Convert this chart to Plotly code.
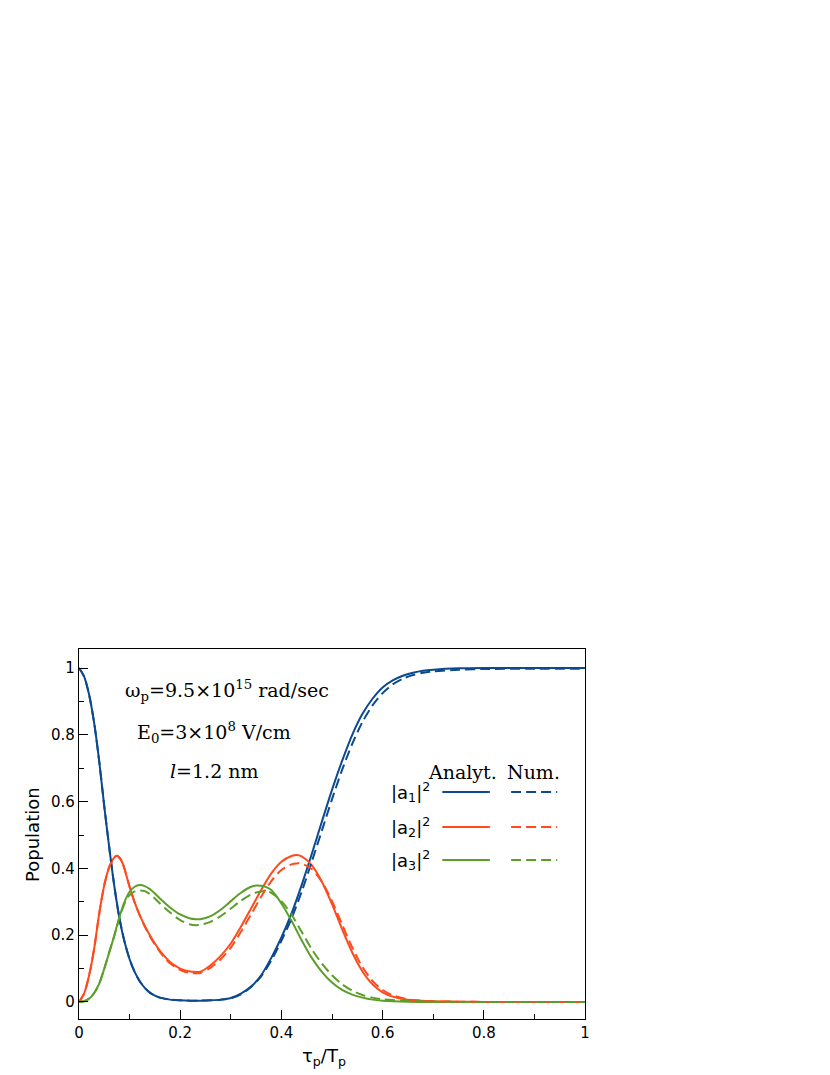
import plotly.graph_objects as go

# ---------------- data ----------------
x_a1 = [0, 0.01, 0.02, 0.03, 0.04, 0.05, 0.06, 0.07, 0.08, 0.09, 0.10, 0.11, 0.12, 0.13,
        0.14, 0.15, 0.16, 0.18, 0.20, 0.22, 0.24, 0.26, 0.28, 0.30, 0.32, 0.34, 0.36, 0.38,
        0.40, 0.42, 0.44, 0.46, 0.48, 0.50, 0.52, 0.54, 0.56, 0.58, 0.60, 0.62, 0.64, 0.66,
        0.68, 0.70, 0.75, 0.80, 0.90, 1.0]
a1_analyt = [1.0, 0.975, 0.92, 0.835, 0.72, 0.585, 0.46, 0.345, 0.25, 0.18, 0.128, 0.09,
             0.062, 0.042, 0.028, 0.019, 0.013, 0.007, 0.005, 0.004, 0.004, 0.005, 0.007,
             0.012, 0.025, 0.046, 0.08, 0.132, 0.193, 0.265, 0.35, 0.443, 0.54, 0.635, 0.722,
             0.80, 0.862, 0.908, 0.942, 0.963, 0.977, 0.986, 0.992, 0.995, 0.999, 1.0, 1.0, 1.0]
a1_num = [1.0, 0.975, 0.92, 0.835, 0.72, 0.585, 0.46, 0.345, 0.25, 0.18, 0.128, 0.09,
          0.062, 0.042, 0.028, 0.019, 0.013, 0.007, 0.005, 0.004, 0.004, 0.005, 0.007,
          0.011, 0.023, 0.045, 0.077, 0.124, 0.183, 0.25, 0.33, 0.42, 0.513, 0.607, 0.695,
          0.773, 0.838, 0.888, 0.925, 0.951, 0.968, 0.979, 0.986, 0.99, 0.995, 0.997, 0.998, 0.998]

x_a2 = [0, 0.01, 0.02, 0.03, 0.04, 0.05, 0.06, 0.07, 0.075, 0.08, 0.085, 0.09, 0.10, 0.11,
        0.12, 0.13, 0.14, 0.15, 0.16, 0.17, 0.18, 0.19, 0.20, 0.21, 0.22, 0.23, 0.24, 0.26,
        0.28, 0.30, 0.32, 0.34, 0.36, 0.38, 0.40, 0.42, 0.43, 0.44, 0.46, 0.48, 0.50, 0.52,
        0.54, 0.56, 0.58, 0.60, 0.62, 0.64, 0.66, 0.70, 0.75, 0.80, 0.90, 1.0]
a2_analyt = [0, 0.025, 0.08, 0.16, 0.265, 0.35, 0.405, 0.433, 0.438, 0.432, 0.42, 0.398,
             0.345, 0.298, 0.26, 0.228, 0.2, 0.175, 0.153, 0.135, 0.12, 0.109, 0.1, 0.094,
             0.091, 0.09, 0.091, 0.11, 0.138, 0.175, 0.225, 0.28, 0.335, 0.385, 0.42, 0.437,
             0.44, 0.436, 0.41, 0.36, 0.293, 0.218, 0.148, 0.092, 0.053, 0.029, 0.016, 0.009,
             0.005, 0.002, 0.001, 0.0, 0.0, 0.0]
a2_num = [0, 0.025, 0.08, 0.16, 0.265, 0.35, 0.405, 0.433, 0.438, 0.432, 0.42, 0.398,
          0.345, 0.298, 0.259, 0.226, 0.197, 0.172, 0.15, 0.131, 0.116, 0.105, 0.096, 0.09,
          0.087, 0.086, 0.087, 0.103, 0.128, 0.163, 0.21, 0.262, 0.315, 0.362, 0.395, 0.412,
          0.415, 0.414, 0.398, 0.36, 0.302, 0.232, 0.163, 0.105, 0.063, 0.036, 0.02, 0.011,
          0.006, 0.002, 0.001, 0.0, 0.0, 0.0]

x_a3 = [0, 0.01, 0.02, 0.03, 0.04, 0.05, 0.06, 0.07, 0.08, 0.09, 0.10, 0.11, 0.12, 0.13,
        0.14, 0.15, 0.16, 0.18, 0.20, 0.22, 0.23, 0.24, 0.26, 0.28, 0.30, 0.32, 0.34, 0.35,
        0.36, 0.37, 0.38, 0.40, 0.42, 0.44, 0.46, 0.48, 0.50, 0.52, 0.54, 0.56, 0.58, 0.60,
        0.65, 0.70, 0.75, 0.80, 0.90, 1.0]
a3_analyt = [0, 0.002, 0.01, 0.027, 0.055, 0.1, 0.15, 0.2, 0.255, 0.3, 0.33, 0.345, 0.35,
             0.347, 0.338, 0.325, 0.31, 0.283, 0.262, 0.25, 0.248, 0.248, 0.257, 0.276,
             0.302, 0.327, 0.345, 0.349, 0.348, 0.344, 0.335, 0.295, 0.243, 0.185, 0.132,
             0.09, 0.058, 0.036, 0.022, 0.013, 0.007, 0.004, 0.001, 0.0, 0.0, 0.0, 0.0, 0.0]
a3_num = [0, 0.002, 0.01, 0.027, 0.055, 0.1, 0.15, 0.2, 0.252, 0.295, 0.32, 0.331, 0.334,
          0.332, 0.323, 0.31, 0.295, 0.268, 0.245, 0.232, 0.23, 0.231, 0.24, 0.257,
          0.28, 0.303, 0.322, 0.328, 0.331, 0.332, 0.327, 0.302, 0.262, 0.21, 0.158,
          0.115, 0.08, 0.053, 0.034, 0.021, 0.013, 0.008, 0.003, 0.001, 0.0, 0.0, 0.0, 0.0]

x_ticks = [0, 0.2, 0.4, 0.6, 0.8, 1]
x_tick_labels = ["0", "0.2", "0.4", "0.6", "0.8", "1"]
y_ticks = [0, 0.2, 0.4, 0.6, 0.8, 1]
y_tick_labels = ["0", "0.2", "0.4", "0.6", "0.8", "1"]

series_labels = ["|a<sub>1</sub>|<sup>2</sup>", "|a<sub>2</sub>|<sup>2</sup>", "|a<sub>3</sub>|<sup>2</sup>"]
colors = ["#0b4a8f", "#ff4a1c", "#5c9e2a"]

SANS = "DejaVu Sans"
SERIF = "DejaVu Serif"
DASH = "10px,5px"

fig = go.Figure()
curves = [(x_a1, a1_analyt, a1_num), (x_a2, a2_analyt, a2_num), (x_a3, a3_analyt, a3_num)]
for (xs, ya, yn), c in zip(curves, colors):
    fig.add_trace(go.Scatter(x=xs, y=ya, mode="lines", showlegend=False,
                             line=dict(color=c, width=2, shape="spline", smoothing=0.8)))
for (xs, ya, yn), c in zip(curves, colors):
    fig.add_trace(go.Scatter(x=xs, y=yn, mode="lines", showlegend=False,
                             line=dict(color=c, width=2, dash=DASH, shape="spline", smoothing=0.8)))

# ---------------- text annotations ----------------
ann = [
    dict(x=0.292, y=0.934, text="ω<sub>p</sub>=9.5×10<sup>15</sup> rad/sec"),
    dict(x=0.267, y=0.806, text="E<sub>0</sub>=3×10<sup>8</sup> V/cm"),
    dict(x=0.267, y=0.692, text="<i>l</i>=1.2 nm"),
    dict(x=0.7585, y=0.69, text="Analyt."),
    dict(x=0.899, y=0.69, text="Num."),
]
for a in ann:
    fig.add_annotation(x=a["x"], y=a["y"], xref="x", yref="y", text=a["text"],
                       showarrow=False, xanchor="center", yanchor="middle",
                       font=dict(family=SERIF, size=19, color="black"))

# legend rows
row_y = [0.629, 0.524, 0.425]
for lab, c, ry in zip(series_labels, colors, row_y):
    fig.add_annotation(x=0.612, y=ry, xref="x", yref="y", text=lab, showarrow=False,
                       xanchor="left", yanchor="middle",
                       font=dict(family=SANS, size=18, color="black"))
    fig.add_shape(type="line", xref="x", yref="y", x0=0.718, x1=0.812, y0=ry, y1=ry,
                  line=dict(color=c, width=2))
    fig.add_shape(type="line", xref="x", yref="y", x0=0.854, x1=0.945, y0=ry, y1=ry,
                  line=dict(color=c, width=2, dash=DASH))

# axis titles
fig.add_annotation(x=-0.093, y=0.5, xref="paper", yref="paper", text="Population",
                   textangle=-90, showarrow=False, xanchor="center", yanchor="middle",
                   font=dict(family=SANS, size=18, color="black"))
fig.add_annotation(x=0.484, y=-0.103, xref="paper", yref="paper",
                   text="τ<sub>p</sub>/T<sub>p</sub>", showarrow=False,
                   xanchor="center", yanchor="middle",
                   font=dict(family=SANS, size=18, color="black"))

axis_common = dict(showline=True, linecolor="black", linewidth=1.2, mirror=True,
                   ticks="inside", ticklen=9, tickwidth=1, tickcolor="black",
                   showgrid=False, zeroline=False,
                   tickfont=dict(family=SANS, size=15, color="black"),
                   minor=dict(ticks="inside", ticklen=5, tickwidth=1, tickcolor="black",
                              dtick=0.1, tick0=0, showgrid=False))

fig.update_xaxes(range=[0, 1], tickmode="array", tickvals=x_ticks, ticktext=x_tick_labels,
                 ticklabelstandoff=0, **axis_common)
fig.update_yaxes(range=[-0.051, 1.057], tickmode="array", tickvals=y_ticks, ticktext=y_tick_labels,
                 ticklabelstandoff=0, **axis_common)

# page body adds an 8px offset, so margins are reduced by 8px on left/top
fig.update_layout(width=830, height=1075, paper_bgcolor="white", plot_bgcolor="white",
                  margin=dict(l=71, r=253, t=641, b=64, autoexpand=False), showlegend=False)

fig.write_html("out.html")
